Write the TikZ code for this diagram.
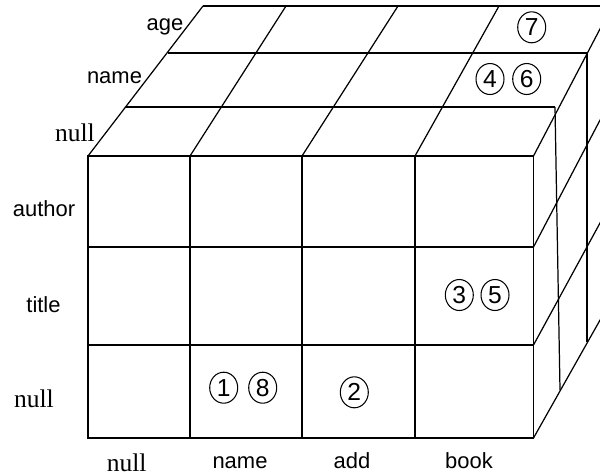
\documentclass[tikz,border=0pt]{standalone}
\usepackage{fontspec}
\setmainfont{Liberation Sans}
\newfontfamily\serifnull{Liberation Serif}
\usetikzlibrary{shapes.geometric}

\begin{document}
\begin{tikzpicture}[x=0.2mm,y=-0.2mm,line width=0.7pt,
      nomor/.style={draw,ellipse,inner sep=0pt,minimum width=5.6mm,minimum height=6.2mm,
                    line width=0.6pt,font=\fontsize{14}{16}\selectfont},
      teks/.style={anchor=base,font=\fontsize{12.5}{14}\selectfont},
      kosong/.style={anchor=base,font=\fontsize{14.5}{16}\serifnull}]
    \useasboundingbox (0,0) rectangle (600,475);
    \clip (0,0) rectangle (600,475);
    % Muka depan
    \draw (88,156) rectangle (533.5,438);
    \foreach \x in {190,302,415} \draw (\x,156) -- (\x,438);
    \foreach \y in {247,345} \draw (88,\y) -- (533.5,\y);
    % Muka atas
    \foreach \a/\b in {88/203,190/286,302/398,415/499} \draw (\a,156) -- (\b,6);
    \draw (126,107) -- (555,107);
    \draw (168,53) -- (587,53);
    \draw (203,6) -- (612,6);
    % Muka samping kanan
    \draw (533.5,156) -- (612,6);
    \draw (533.5,247) -- (615,91.5);
    \draw (533.5,345) -- (615,195.5);
    \draw (533.5,438) -- (615,293.5);
    \draw (555,107) -- (560,390);
    \draw (587,53) -- (587,342);
    % Label sumbu kedalaman
    \node[teks] (age) at (165,30.7) {age};
    \node[teks] (nameb) at (114.5,83.3) {name};
    \node[kosong] (nullb) at (75,141.7) {null};
    % Label baris
    \node[teks] (author) at (44,216) {author};
    \node[teks] (title) at (43.5,312.3) {title};
    \node[kosong] (nullr) at (34,407.7) {null};
    % Label kolom
    \node[kosong] (nullk) at (126.7,471.7) {null};
    \node[teks] (namek) at (240,468.3) {name};
    \node[teks] (add) at (352,468.3) {add};
    \node[teks] (book) at (469,468.3) {book};
    % Nomor dalam sel
    \node[nomor] (n1) at (223.7,387.7) {1};
    \node[nomor] (n8) at (262.7,387.7) {8};
    \node[nomor] (n2) at (354.3,392.3) {2};
    \node[nomor] (n3) at (459.3,295) {3};
    \node[nomor] (n5) at (495,295) {5};
    \node[nomor] (n4) at (490,79) {4};
    \node[nomor] (n6) at (526.7,79) {6};
    \node[nomor] (n7) at (531.7,27.3) {7};
  \end{tikzpicture}
\end{document}
